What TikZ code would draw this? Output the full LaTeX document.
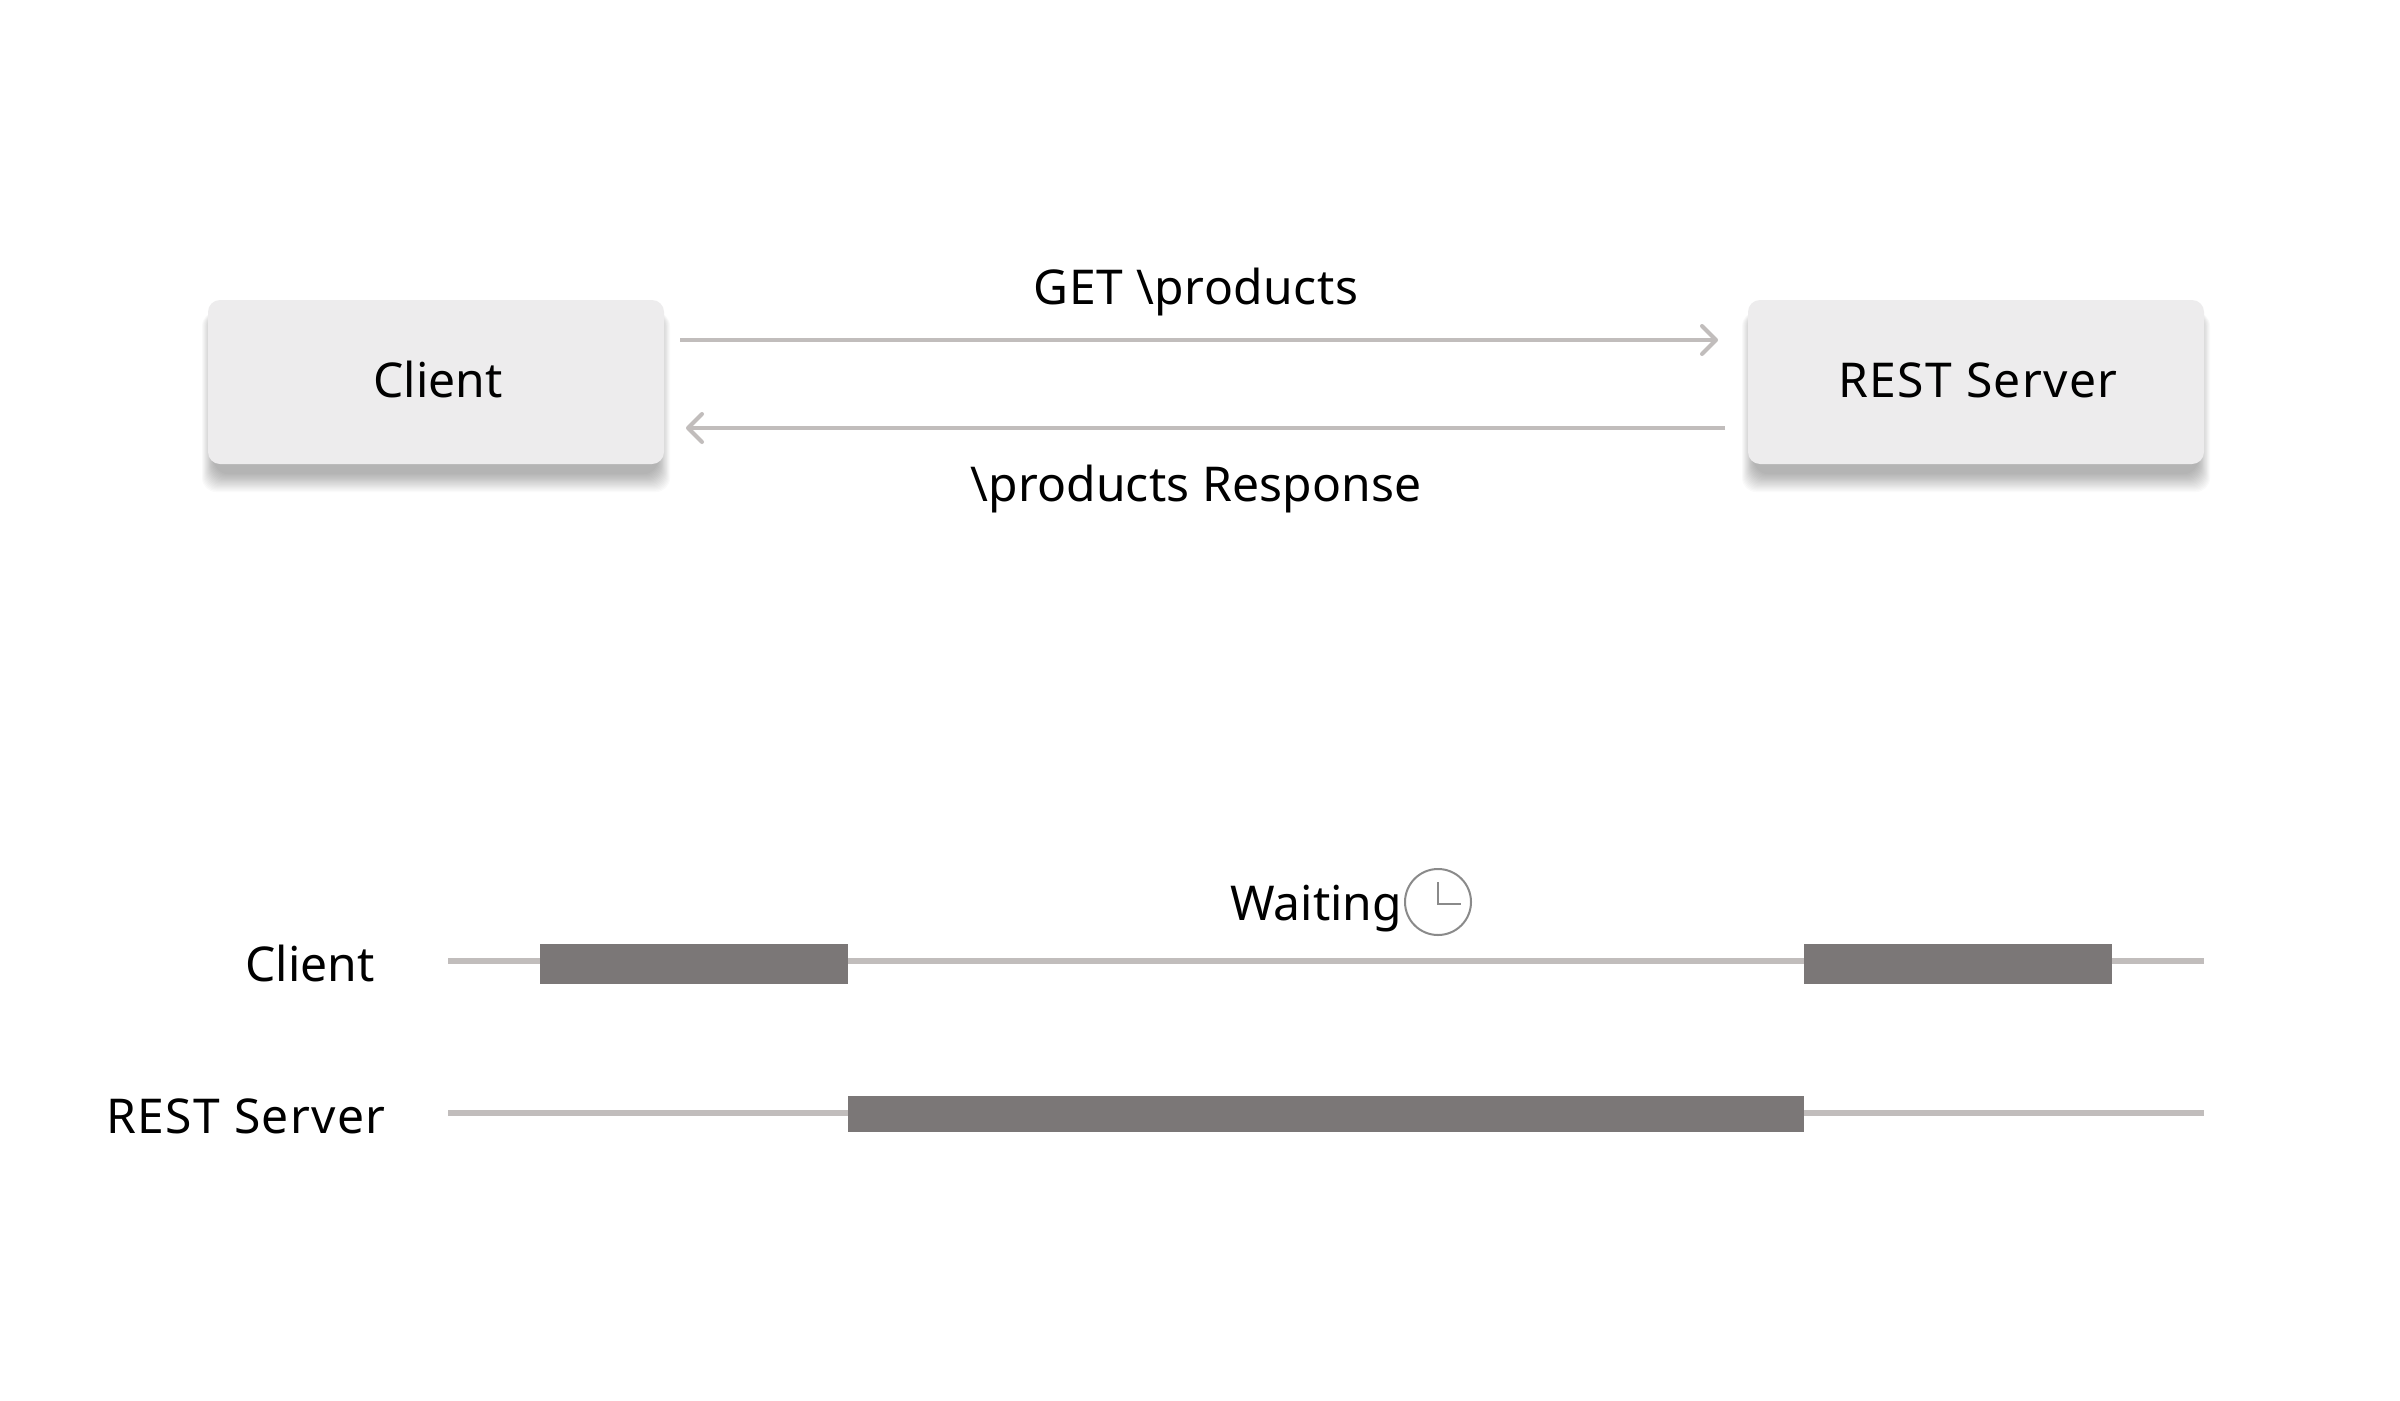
\documentclass[tikz,border=0pt]{standalone}
\usepackage{fontspec}
\setmainfont{Noto Sans}
\definecolor{boxfill}{HTML}{EDECED}
\definecolor{linegray}{HTML}{C1BDBC}
\definecolor{barfill}{HTML}{7B7777}
\definecolor{clockgray}{HTML}{8A8A8A}
\tikzset{
  x=1pt,y=-1pt,
  txt/.style={font=\fontsize{48}{56}\selectfont,text=black,anchor=base,inner sep=0pt,outer sep=0pt},
  boxnode/.style={fill=boxfill,rounded corners=12pt,minimum width=456pt,minimum height=164pt,inner sep=0pt,outer sep=0pt},
  flow/.style={draw=linegray,line width=4pt},
  head/.style={draw=linegray,line width=4pt,line cap=round,line join=round},
  rail/.style={draw=linegray,line width=6pt},
}
\newcommand{\softshadow}[4]{%
  \foreach \k in {0,...,15}{
    \fill[black,opacity=0.02,rounded corners=14pt]
      ({#1+\k*0.8-6},{#2+12}) rectangle ({#3-\k*0.8+6},{#4+28-\k*1.2});
  }}
\newcommand{\wide}[1]{\addfontfeature{LetterSpace=#1}}
\begin{document}
\begin{tikzpicture}
\useasboundingbox (0,0) rectangle (2400,1400);
\fill[white] (0,0) rectangle (2400,1400);
\softshadow{208}{300}{664}{464}
\softshadow{1748}{300}{2204}{464}
\node[boxnode] (client) at (436,382) {};
\node[boxnode] (server) at (1976,382) {};
\node[txt] (clientlabel) at (438,397) {Client};
\node[txt] (serverlabel) at (1978,397) {\wide{3}REST Server};
\coordinate (a1) at (680,340);
\coordinate (a2) at (1716,340);
\coordinate (a2u) at (1702,326);
\coordinate (a2d) at (1702,354);
\draw[flow] (a1) -- (a2);
\draw[head] (a2u) -- (a2) -- (a2d);
\coordinate (c1) at (1725,428);
\coordinate (c2) at (688,428);
\coordinate (c2u) at (702,414);
\coordinate (c2d) at (702,442);
\draw[flow] (c1) -- (c2);
\draw[head] (c2u) -- (c2) -- (c2d);
\node[txt] (getlabel) at (1196,304) {\wide{1.2}GET \textbackslash products};
\node[txt] (resplabel) at (1196,501) {\wide{0.3}\textbackslash products Response};
\coordinate (r1a) at (448,961);
\coordinate (r1b) at (2204,961);
\coordinate (r2a) at (448,1113);
\coordinate (r2b) at (2204,1113);
\draw[rail] (r1a) -- (r1b);
\draw[rail] (r2a) -- (r2b);
\fill[barfill] (540,944) rectangle (848,984);
\fill[barfill] (1804,944) rectangle (2112,984);
\fill[barfill] (848,1096) rectangle (1804,1132);
\node[txt] (row1) at (310,981) {Client};
\node[txt] (row2) at (246,1133) {\wide{3}REST Server};
\node[txt] (waiting) at (1316,920) {Waiting};
\node[draw=clockgray,line width=2pt,circle,minimum size=66pt,inner sep=0pt] (clock) at (1438,902) {};
\draw[clockgray,line width=2pt] (1438,882) -- (1438,904) -- (1461,904);
\end{tikzpicture}
\end{document}
